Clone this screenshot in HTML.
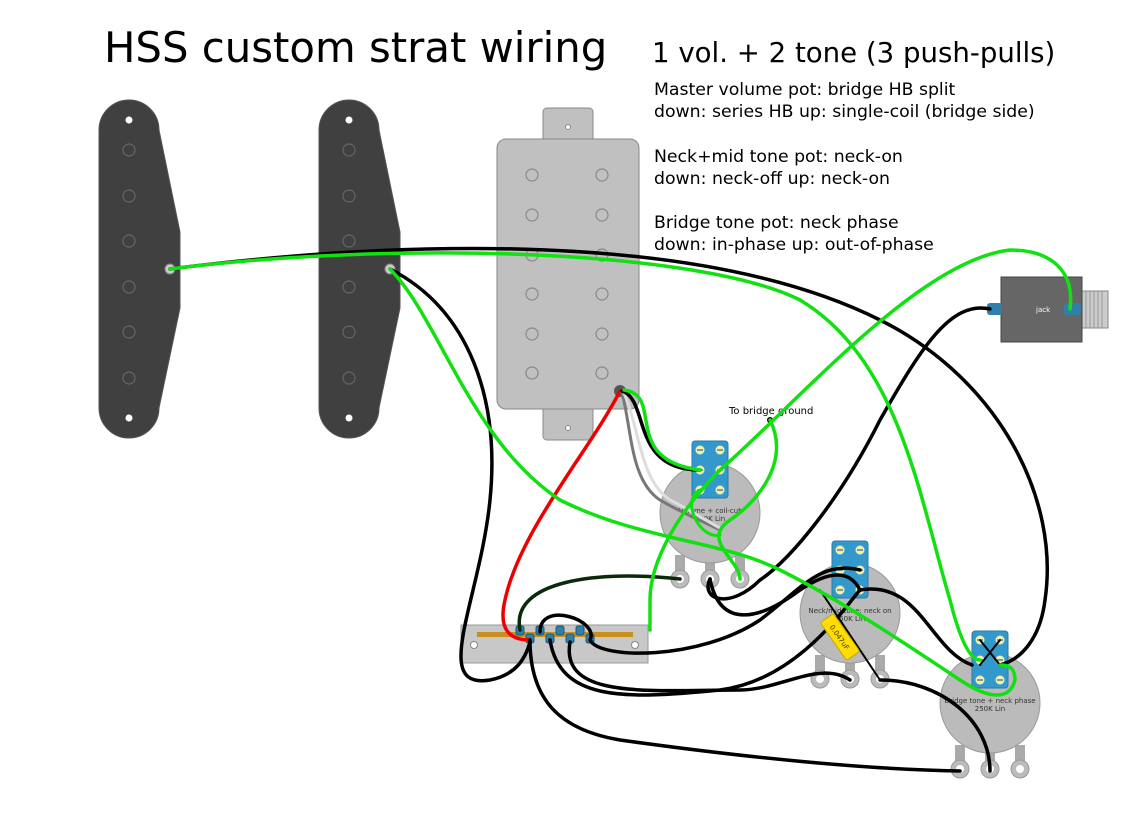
<!DOCTYPE html>
<html><head><meta charset="utf-8"><style>
html,body{margin:0;padding:0;background:#fff;}
svg{display:block;font-family:"DejaVu Sans","Liberation Sans",sans-serif;}
</style></head><body>
<svg width="1141" height="826" viewBox="0 0 1141 826" xmlns="http://www.w3.org/2000/svg">
<rect width="1141" height="826" fill="#fff"/>
<text x="104" y="62" font-size="41.8" fill="#000">HSS custom strat wiring</text>
<text x="652" y="62" font-size="27.6" fill="#000">1 vol. + 2 tone (3 push-pulls)</text>
<g font-size="17.3" fill="#000">
<text x="654" y="95">Master volume pot: bridge HB split</text>
<text x="654" y="117">down: series HB up: single-coil (bridge side)</text>
<text x="654" y="162">Neck+mid tone pot: neck-on</text>
<text x="654" y="184">down: neck-off up: neck-on</text>
<text x="654" y="228">Bridge tone pot: neck phase</text>
<text x="654" y="250">down: in-phase up: out-of-phase</text>
</g>

<g id="sc">
<path d="M99,130 A30,30 0 0 1 159,130 L180,232 L180,308 L159,408 A30,30 0 0 1 99,408 Z" fill="#404040" stroke="#555"/>
<circle cx="129" cy="120" r="3.5" fill="#fff"/>
<circle cx="129" cy="418" r="3.5" fill="#fff"/>
<g fill="none" stroke="#666" stroke-width="1.2">
<circle cx="129" cy="150" r="6"/><circle cx="129" cy="196" r="6"/><circle cx="129" cy="241" r="6"/>
<circle cx="129" cy="287" r="6"/><circle cx="129" cy="332" r="6"/><circle cx="129" cy="378" r="6"/>
</g>
<circle cx="170" cy="269" r="5" fill="#ccc" stroke="#888"/>
</g>
<use href="#sc" transform="translate(220,0)"/>

<rect x="543" y="108" width="50" height="40" rx="4" fill="#c0c0c0" stroke="#888"/>
<rect x="543" y="400" width="50" height="40" rx="4" fill="#c0c0c0" stroke="#888"/>
<rect x="497" y="139" width="142" height="270" rx="9" fill="#c0c0c0" stroke="#888"/>
<circle cx="568" cy="127" r="2.5" fill="#fff" stroke="#888"/>
<circle cx="568" cy="428" r="2.5" fill="#fff" stroke="#888"/>
<g fill="none" stroke="#888" stroke-width="1.2">
<circle cx="532" cy="175" r="6"/><circle cx="532" cy="215" r="6"/><circle cx="532" cy="255" r="6"/><circle cx="532" cy="294" r="6"/><circle cx="532" cy="334" r="6"/><circle cx="532" cy="373" r="6"/>
<circle cx="602" cy="175" r="6"/><circle cx="602" cy="215" r="6"/><circle cx="602" cy="255" r="6"/><circle cx="602" cy="294" r="6"/><circle cx="602" cy="334" r="6"/><circle cx="602" cy="373" r="6"/>
</g>
<circle cx="620" cy="391" r="6" fill="#555"/>

<rect x="1082" y="291" width="26" height="37" fill="#ccc" stroke="#888"/>
<g stroke="#999" stroke-width="1"><line x1="1086" y1="291" x2="1086" y2="328"/><line x1="1090" y1="291" x2="1090" y2="328"/><line x1="1094" y1="291" x2="1094" y2="328"/><line x1="1098" y1="291" x2="1098" y2="328"/><line x1="1102" y1="291" x2="1102" y2="328"/></g>
<rect x="1001" y="277" width="81" height="65" fill="#666" stroke="#444"/>
<rect x="987" y="303" width="15" height="12" rx="3" fill="#2f7fa8"/>
<rect x="1064" y="303" width="17" height="12" rx="3" fill="#2f7fa8"/>
<text x="1036" y="312" font-size="7" fill="#fff">jack</text>

<g id="pot">
<path d="M675,555 h10 v24 h-10z M705,555 h10 v24 h-10z M735,555 h10 v24 h-10z" fill="#aaa"/>
<circle cx="680" cy="579" r="9" fill="#bbb" stroke="#999"/><circle cx="680" cy="579" r="4" fill="#fff"/>
<circle cx="710" cy="579" r="9" fill="#bbb" stroke="#999"/><circle cx="710" cy="579" r="4" fill="#fff"/>
<circle cx="740" cy="579" r="9" fill="#bbb" stroke="#999"/><circle cx="740" cy="579" r="4" fill="#fff"/>
<circle cx="710" cy="513" r="50" fill="#bbb" stroke="#999"/>
<rect x="692" y="441" width="36" height="57" rx="3" fill="#3399cc" stroke="#2a7aa5"/>
<g fill="#f3eeaa"><circle cx="700" cy="450" r="4.5"/><circle cx="720" cy="450" r="4.5"/><circle cx="700" cy="470" r="4.5"/><circle cx="720" cy="470" r="4.5"/><circle cx="700" cy="490" r="4.5"/><circle cx="720" cy="490" r="4.5"/></g>
<g stroke="#2a6a8a" stroke-width="1.2"><line x1="697" y1="450" x2="703" y2="450"/><line x1="717" y1="450" x2="723" y2="450"/><line x1="697" y1="470" x2="703" y2="470"/><line x1="717" y1="470" x2="723" y2="470"/><line x1="697" y1="490" x2="703" y2="490"/><line x1="717" y1="490" x2="723" y2="490"/></g>
</g>
<use href="#pot" transform="translate(140,100)"/>
<use href="#pot" transform="translate(280,190)"/>
<g font-size="7" fill="#333" text-anchor="middle">
<text x="710" y="513">Volume + coil-cut</text><text x="710" y="521">250K Lin</text>
<text x="850" y="613">Neck/mid tone: neck on</text><text x="850" y="621">250K Lin</text>
<text x="990" y="703">Bridge tone + neck phase</text><text x="990" y="711">250K Lin</text>
</g>

<rect x="461" y="625" width="187" height="38" fill="#c8c8c8" stroke="#999"/>
<rect x="477" y="632" width="156" height="5" fill="#c8901a"/>
<circle cx="474" cy="645" r="3.5" fill="#fff" stroke="#888"/>
<circle cx="635" cy="645" r="3.5" fill="#fff" stroke="#888"/>
<g fill="#2f7fa8" stroke="#1d5a78">
<rect x="516" y="626" width="8" height="9" rx="2"/><rect x="526" y="634" width="8" height="9" rx="2"/>
<rect x="536" y="626" width="8" height="9" rx="2"/><rect x="546" y="634" width="8" height="9" rx="2"/>
<rect x="556" y="626" width="8" height="9" rx="2"/><rect x="566" y="634" width="8" height="9" rx="2"/>
<rect x="576" y="626" width="8" height="9" rx="2"/><rect x="586" y="634" width="8" height="9" rx="2"/>
</g>

<text x="729" y="414" font-size="10" fill="#000">To bridge ground</text>
<circle cx="770" cy="420" r="3" fill="#000"/>

<g fill="none" stroke-linecap="round">
<path d="M620,391 C590,450 520,530 505,600 C498,630 510,640 530,640" stroke="#e00" stroke-width="3.5"/>
<path d="M622,393 C632,430 630,480 660,500 C680,512 700,520 720,530" stroke="#777" stroke-width="3"/>
<path d="M624,393 C640,430 640,480 670,500 C690,510 705,520 720,528" stroke="#ddd" stroke-width="3"/>
<path d="M622,391 C650,400 630,470 700,470" stroke="#000" stroke-width="3.5"/>
<path d="M624,390 C665,395 620,460 700,470" stroke="#11e011" stroke-width="3.5"/>
<path d="M170,269 C400,240 700,230 880,320 C1000,380 1060,500 1045,600 C1040,640 1020,660 1000,665" stroke="#000" stroke-width="3.5"/>
<path d="M390,269 C470,310 500,400 490,500 C480,600 430,690 490,680 C515,675 525,660 530,642" stroke="#000" stroke-width="3.5"/>
<path d="M990,309 C950,300 920,350 880,420 C840,500 790,560 760,580 C730,610 700,600 710,579" stroke="#000" stroke-width="3.5"/>
<path d="M520,630 C510,580 600,570 680,579" stroke="#0a2a0a" stroke-width="3.5"/>
<path d="M540,632 C540,600 600,620 590,640 C600,660 700,660 760,620 C800,590 820,560 860,570" stroke="#000" stroke-width="3.5"/>
<path d="M550,640 C560,700 620,700 720,690 C800,680 850,600 860,590" stroke="#000" stroke-width="3.5"/>
<path d="M570,642 C560,700 650,690 740,690 C780,690 820,660 850,680" stroke="#000" stroke-width="3.5"/>
<path d="M530,640 C530,700 560,730 620,740 C800,765 900,770 960,771" stroke="#000" stroke-width="3.5"/>
<path d="M710,579 C720,630 760,620 800,590 C830,570 850,570 860,590" stroke="#000" stroke-width="3.5"/>
<path d="M860,590 C920,580 930,650 972,665" stroke="#000" stroke-width="3.5"/>
<path d="M880,680 C940,680 990,720 990,771" stroke="#000" stroke-width="3.5"/>
<path d="M820,590 L880,680" stroke="#000" stroke-width="2"/>
<path d="M980,640 L1000,665 M1000,640 L980,665" stroke="#000" stroke-width="2"/>
<path d="M170,269 C400,240 700,250 800,300 C900,360 920,500 950,600 C960,640 970,660 980,660" stroke="#11e011" stroke-width="3.5"/>
<path d="M390,269 C440,320 470,440 560,500 C640,540 720,540 780,570 C840,600 900,640 960,680 C990,700 1010,700 1015,680 C1015,665 1005,665 1000,665" stroke="#11e011" stroke-width="3.5"/>
<path d="M1070,309 C1075,270 1050,250 1010,250 C920,260 800,400 720,470 C680,510 650,560 650,600 L650,630" stroke="#11e011" stroke-width="3.5"/>
<path d="M770,420 C790,460 760,500 730,520 C700,540 740,560 740,579" stroke="#11e011" stroke-width="3.5"/>
<path d="M700,490 C680,500 700,540 720,535" stroke="#11e011" stroke-width="3"/>
</g>
<rect x="832" y="614" width="16" height="46" rx="2" fill="#ffdd00" stroke="#c9a800" transform="rotate(-35 840 637)"/>
<text x="840" y="640" font-size="7" fill="#333" text-anchor="middle" transform="rotate(55 840 637)">0.047uF</text>
</svg>
</body></html>
